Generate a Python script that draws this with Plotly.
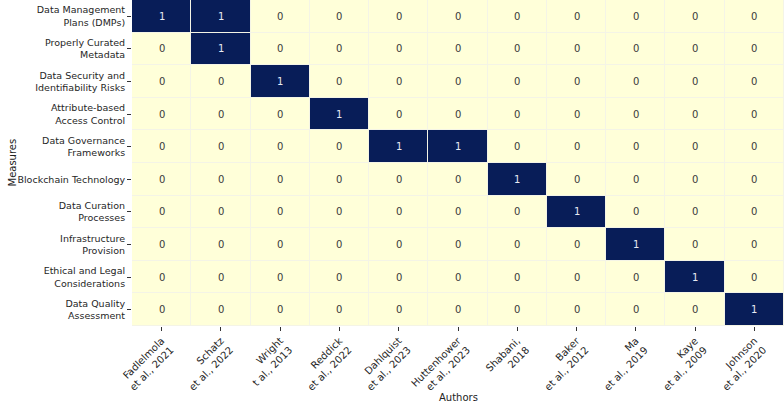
import plotly.graph_objects as go

measures = [
    "Data Management<br>Plans (DMPs)",
    "Properly Curated<br>Metadata",
    "Data Security and<br>Identifiability Risks",
    "Attribute-based<br>Access Control",
    "Data Governance<br>Frameworks",
    "Blockchain Technology",
    "Data Curation<br>Processes",
    "Infrastructure<br>Provision",
    "Ethical and Legal<br>Considerations",
    "Data Quality<br>Assessment",
]
authors = [
    "Fadlelmola<br>et al., 2021",
    "Schatz<br>et al., 2022",
    "Wright<br>t al., 2013",
    "Reddick<br>et al., 2022",
    "Dahlquist<br>et al., 2023",
    "Huttenhower<br>et al., 2023",
    "Shabani,<br>2018",
    "Baker<br>et al., 2012",
    "Ma<br>et al., 2019",
    "Kaye<br>et al., 2009",
    "Johnson<br>et al., 2020",
]
values = [
    [1, 1, 0, 0, 0, 0, 0, 0, 0, 0, 0],
    [0, 1, 0, 0, 0, 0, 0, 0, 0, 0, 0],
    [0, 0, 1, 0, 0, 0, 0, 0, 0, 0, 0],
    [0, 0, 0, 1, 0, 0, 0, 0, 0, 0, 0],
    [0, 0, 0, 0, 1, 1, 0, 0, 0, 0, 0],
    [0, 0, 0, 0, 0, 0, 1, 0, 0, 0, 0],
    [0, 0, 0, 0, 0, 0, 0, 1, 0, 0, 0],
    [0, 0, 0, 0, 0, 0, 0, 0, 1, 0, 0],
    [0, 0, 0, 0, 0, 0, 0, 0, 0, 1, 0],
    [0, 0, 0, 0, 0, 0, 0, 0, 0, 0, 1],
]

FONT = "DejaVu Sans"
LIGHT = "#ffffd9"
fig = go.Figure(go.Heatmap(
    z=values, x=list(range(len(authors))), y=list(range(len(measures))),
    colorscale=[[0, LIGHT], [1, "#081d58"]],
    zmin=0, zmax=1, showscale=False, xgap=1, ygap=1,
))

annotations = []
for i, row in enumerate(values):
    for j, v in enumerate(row):
        annotations.append(dict(
            x=j, y=i, text=str(v), showarrow=False,
            font=dict(family=FONT, size=10, color="#e8ecf2" if v == 1 else "#3a3a3a"),
        ))
annotations.append(dict(
    xref="paper", yref="paper", x=0.5, y=-0.2, yanchor="middle", yshift=-6,
    text="Authors", showarrow=False, font=dict(family=FONT, size=10, color="#222"),
))
annotations.append(dict(
    xref="paper", yref="paper", x=0, xshift=-128, y=0.5, textangle=-90,
    text="Measures", showarrow=False, font=dict(family=FONT, size=10, color="#222"),
))

fig.update_layout(
    width=784, height=406,
    margin=dict(l=132, r=0, t=0, b=80),
    plot_bgcolor="#f4f4e6", paper_bgcolor="white",
    annotations=annotations,
    font=dict(family=FONT, size=9.5, color="#262626"),
    xaxis=dict(
        tickmode="array", tickvals=list(range(len(authors))), ticktext=authors,
        tickangle=-45, ticks="outside", ticklen=4, tickcolor="#333",
        tickfont=dict(size=10),
        showgrid=False, zeroline=False, range=[-0.5, len(authors) - 0.5],
        automargin=False,
    ),
    yaxis=dict(
        tickmode="array", tickvals=list(range(len(measures))), ticktext=measures,
        ticks="outside", ticklen=4, tickcolor="#333",
        showgrid=False, zeroline=False, range=[len(measures) - 0.5, -0.5],
        automargin=False,
    ),
)
fig.write_html("out.html", config={"displayModeBar": False},
               post_script="document.body.style.margin='0';")
